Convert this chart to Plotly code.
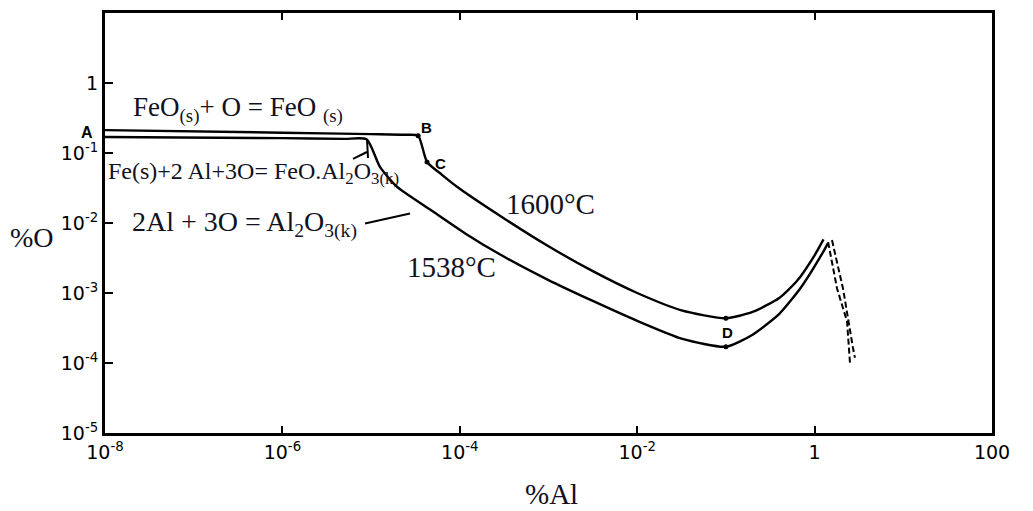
import plotly.graph_objects as go

# ---------------- data ----------------
# 1600 °C curve  (A -> B -> C -> D -> peak)
al_1600 = [1e-8, 1e-6, 1e-5, 2.5e-5, 3.39e-5, 4.27e-5, 6.3e-5, 1e-4, 3.16e-4, 1e-3, 3.16e-3,
           0.01, 0.0316, 0.1, 0.2, 0.4, 0.631, 1.0, 1.26]
o_1600 = [0.212, 0.195, 0.186, 0.182, 0.177, 0.0744, 0.0488, 0.0308, 0.0116, 4.65e-3, 2.05e-3,
          1.0e-3, 5.65e-4, 4.35e-4, 5.37e-4, 8.5e-4, 1.48e-3, 3.46e-3, 5.83e-3]

# 1538 °C curve
al_1538 = [1e-8, 1e-6, 5e-6, 8.9e-6, 1.26e-5, 1.95e-5, 5.0e-5, 1.2e-4, 2.82e-4, 1e-3, 3.16e-3,
           0.01, 0.0316, 0.1, 0.2, 0.4, 0.708, 1.26, 1.41]
o_1538 = [0.169, 0.163, 0.159, 0.157, 0.0632, 0.033, 0.01456, 6.87e-3, 3.57e-3, 1.53e-3, 7.7e-4,
          4.0e-4, 2.23e-4, 1.71e-4, 2.54e-4, 5.04e-4, 1.22e-3, 3.94e-3, 5.12e-3]

# dashed branches beyond the peak
al_dash1 = [1.42, 1.79, 2.32, 2.51]
o_dash1 = [5.35e-3, 1.16e-3, 3.95e-4, 9.75e-5]
al_dash2 = [1.57, 2.09, 2.71, 2.85]
o_dash2 = [5.7e-3, 1.16e-3, 1.64e-4, 1.19e-4]

# marked points (B, C, D on 1600 °C, D on 1538 °C)
pts_al = [3.39e-5, 4.27e-5, 0.1, 0.1]
pts_o = [0.177, 0.0744, 4.35e-4, 1.71e-4]

# tick labels
x_tickvals = [1e-8, 1e-6, 1e-4, 1e-2, 1, 100]
x_ticktext = ["10<sup>-8</sup>", "10<sup>-6</sup>", "10<sup>-4</sup>", "10<sup>-2</sup>", "1", "100"]
y_tickvals = [1e-5, 1e-4, 1e-3, 1e-2, 1e-1, 1]
y_ticktext = ["10<sup>-5</sup>", "10<sup>-4</sup>", "10<sup>-3</sup>", "10<sup>-2</sup>", "10<sup>-1</sup>", "1"]

# ---------------- figure ----------------
W, H = 1033, 511
L, R, T, B = 105, 41, 10, 78
PW, PH = W - L - R, H - T - B


def px(x):
    return (x - L) / PW


def py(y):
    return (H - B - y) / PH


line_style = dict(color="black", width=2.4, shape="spline", smoothing=0.6)

fig = go.Figure()
fig.add_trace(go.Scatter(x=al_1600, y=o_1600, mode="lines", line=line_style,
                         name="1600°C", showlegend=False, hoverinfo="skip"))
fig.add_trace(go.Scatter(x=al_1538, y=o_1538, mode="lines", line=line_style,
                         name="1538°C", showlegend=False, hoverinfo="skip"))
fig.add_trace(go.Scatter(x=al_dash1, y=o_dash1, mode="lines",
                         line=dict(color="black", width=2, dash="6px,3px"),
                         showlegend=False, hoverinfo="skip"))
fig.add_trace(go.Scatter(x=al_dash2, y=o_dash2, mode="lines",
                         line=dict(color="black", width=2, dash="6px,3px"),
                         showlegend=False, hoverinfo="skip"))
fig.add_trace(go.Scatter(x=pts_al, y=pts_o, mode="markers",
                         marker=dict(color="black", size=5),
                         showlegend=False, hoverinfo="skip"))

serif = "Liberation Serif, Times New Roman, serif"
sans = "Liberation Sans, Arial, sans-serif"
tickfam = "DejaVu Sans, Verdana, sans-serif"
txt_col = "#111122"

annotations = [
    dict(text="FeO<sub>(s)</sub>+ O = FeO <sub>(s)</sub>", x=px(131), y=py(107), size=27, font=serif),
    dict(text="Fe(s)+2 Al+3O= FeO.Al<sub>2</sub>O<sub>3(k)</sub>", x=px(106), y=py(171), size=24, font=serif),
    dict(text="2Al + 3O = Al<sub>2</sub>O<sub>3(k)</sub>", x=px(130), y=py(223), size=28, font=serif),
    dict(text="1600°C", x=px(504), y=py(202), size=29, font=serif),
    dict(text="1538°C", x=px(405), y=py(266), size=29, font=serif),
    dict(text="%O", x=px(8), y=py(236), size=28, font=serif),
    dict(text="%Al", x=px(523), y=py(494), size=29, font=serif),
    dict(text="<b>A</b>", x=px(79), y=py(130), size=16, font=sans),
    dict(text="<b>B</b>", x=px(419), y=py(125), size=15, font=sans),
    dict(text="<b>C</b>", x=px(433), y=py(162), size=15, font=sans),
    dict(text="<b>D</b>", x=px(720), y=py(332), size=15, font=sans),
]
fig.update_layout(annotations=[
    dict(text=a["text"], x=a["x"], y=a["y"], xref="paper", yref="paper",
         xanchor="left", yanchor="middle", showarrow=False,
         font=dict(family=a["font"], size=a["size"], color=txt_col if a["font"] == serif else "black"))
    for a in annotations
])

# pointer lines
shapes = [
    dict(x0=px(365), y0=py(222), x1=px(410), y1=py(212)),
    dict(x0=px(367), y0=py(137), x1=px(368), y1=py(156)),
    dict(x0=px(367), y0=py(150), x1=px(353), y1=py(157)),
]
fig.update_layout(shapes=[dict(type="line", xref="paper", yref="paper",
                               line=dict(color="black", width=2), **s) for s in shapes])

fig.update_xaxes(type="log", range=[-8, 2], tickvals=x_tickvals, ticktext=x_ticktext,
                 showgrid=False, zeroline=False, showline=True, linecolor="black", linewidth=3,
                 mirror="ticks", ticks="inside", ticklen=7, tickwidth=2, tickcolor="black",
                 tickfont=dict(family=tickfam, size=19, color="black"))
fig.update_yaxes(type="log", range=[-5, 1], tickvals=y_tickvals, ticktext=y_ticktext,
                 showgrid=False, zeroline=False, showline=True, linecolor="black", linewidth=3,
                 mirror=True, ticks="inside", ticklen=8, tickwidth=2, tickcolor="black",
                 ticklabelstandoff=0,
                 tickfont=dict(family=tickfam, size=19, color="black"))

fig.update_layout(width=W, height=H, margin=dict(l=L, r=R, t=T, b=B),
                  paper_bgcolor="white", plot_bgcolor="white", showlegend=False)

fig.write_html("out.html")
